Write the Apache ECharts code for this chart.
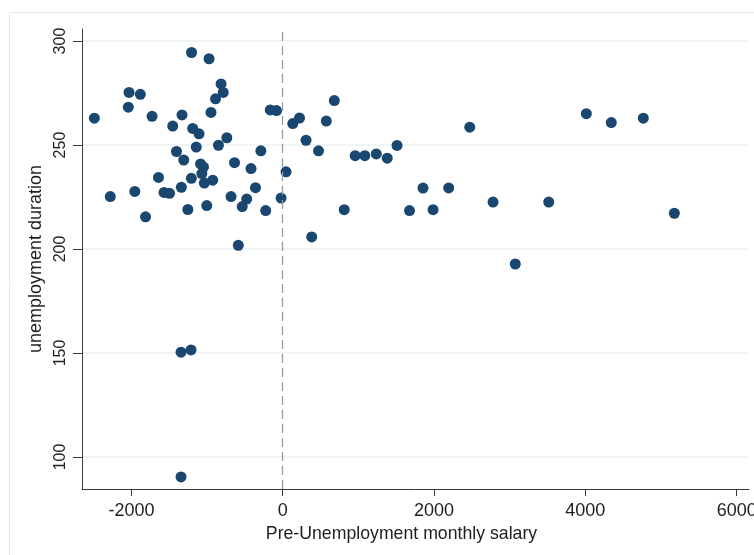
<!DOCTYPE html>
<html>
<head>
<meta charset="utf-8">
<title>Unemployment duration vs pre-unemployment salary</title>
<script src="https://cdn.jsdelivr.net/npm/echarts@6/dist/echarts.min.js"></script>
<style>
  html, body { margin: 0; padding: 0; background: #ffffff; }
  #chart { width: 754px; height: 555px; }
</style>
</head>
<body>
<div id="chart"></div>
<script>
// Pre-unemployment monthly salary (centred) for each person
const salary = [
  -2490, -1205, -974, -2031, -1882, -2041, -1727, -1331, -815, -786,
  -888, -948, -1454, -1190, -1106, -739, -849, -1143, -1404, -1308,
  -1086, -1047, -1069, -1036, -925, -1208, -1340, -1642, -1569, -1496,
  -2279, -1955, -1813, -1254, -1004, -683, -637, -419, -289, -360,
  -535, -476, -225, -587, -22, 44, -165, -82, 133, 222,
  308, 473, 576, 682, 813, 383, 958, 1085, 1237, 1381,
  1511, 2472, 1854, 2194, 1676, 1987, 2780, 3516, 3074, 4013,
  4343, 4766, 5176, -1344, -1212, -1344
];

// Unemployment duration for the same people
const duration = [
  262.9, 294.5, 291.5, 275.3, 274.4, 268.2, 263.8, 264.5, 279.4, 275.3,
  272.2, 265.7, 259.1, 258.0, 255.4, 253.5, 249.9, 249.0, 246.9, 242.8,
  240.9, 239.4, 236.3, 231.7, 233.1, 234.0, 229.7, 234.4, 227.2, 226.8,
  225.2, 227.7, 215.5, 219.0, 220.9, 225.2, 241.5, 238.7, 247.2, 229.5,
  220.4, 224.0, 218.5, 201.8, 224.5, 237.1, 266.9, 266.6, 260.3, 263.0,
  252.3, 247.2, 261.5, 271.4, 218.9, 205.8, 244.9, 244.9, 245.7, 243.7,
  249.8, 258.6, 229.3, 229.4, 218.5, 218.9, 222.6, 222.6, 192.8, 265.1,
  260.8, 262.9, 217.2, 150.4, 151.5, 90.4
];

// Tick positions on each axis
const xTicks = [-2000, 0, 2000, 4000, 6000];
const yTicks = [100, 150, 200, 250, 300];

// Axis titles
const xTitle = 'Pre-Unemployment monthly salary';
const yTitle = 'unemployment duration';

const points = salary.map((s, i) => [s, duration[i]]);

const FONT = '"Liberation Sans", Arial, sans-serif';
const TEXT = '#1e1e1e';
const AXIS = '#3a3a3a';

// plain integers, no thousands separator
const plain = v => String(Math.round(v));

const chart = echarts.init(document.getElementById('chart'), null, { renderer: 'canvas' });

chart.setOption({
  backgroundColor: '#ffffff',
  animation: false,
  textStyle: { fontFamily: FONT },
  graphic: [{
    type: 'rect',
    left: 7, top: 10,
    shape: { width: 900, height: 700 },
    style: { fill: 'none', stroke: '#e3ebeb', lineWidth: 1 },
    silent: true,
    z: -1
  }],
  grid: {
    left: 82, right: 5, top: 29, bottom: 66,
    outerBoundsMode: 'none'
  },
  xAxis: {
    type: 'value',
    min: -2653,
    max: 6163,
    name: xTitle,
    nameLocation: 'middle',
    nameGap: 31,
    nameTextStyle: { color: TEXT, fontSize: 17.7, fontFamily: FONT, padding: [0, 28, 0, 0] },
    axisLine: { show: true, onZero: false, lineStyle: { color: AXIS, width: 1 } },
    axisTick: { show: true, length: 7, customValues: xTicks, lineStyle: { color: AXIS } },
    axisLabel: { customValues: xTicks, formatter: plain, color: TEXT, fontSize: 18, margin: 13, fontFamily: FONT },
    splitLine: { show: false }
  },
  yAxis: {
    type: 'value',
    min: 84.6,
    max: 305.8,
    name: yTitle,
    nameLocation: 'middle',
    nameGap: 32,
    nameRotate: 90,
    nameTextStyle: { color: TEXT, fontSize: 18, fontFamily: FONT },
    axisLine: { show: true, onZero: false, lineStyle: { color: AXIS, width: 1 } },
    axisTick: { show: true, length: 9, customValues: yTicks, lineStyle: { color: AXIS } },
    axisLabel: { customValues: yTicks, formatter: plain, rotate: 90, color: TEXT, fontSize: 16, margin: 13, fontFamily: FONT },
    splitLine: { show: true, lineStyle: { color: '#eaf1f1', width: 1.5 } }
  },
  series: [{
    type: 'scatter',
    data: points,
    symbol: 'circle',
    symbolSize: 11,
    itemStyle: { color: '#1a476f', opacity: 1 },
    markLine: {
      silent: true,
      symbol: 'none',
      label: { show: false },
      lineStyle: { color: '#9a9a9a', type: [9, 5], width: 1.3 },
      data: [{ xAxis: 0 }]
    }
  }]
});
</script>
</body>
</html>
